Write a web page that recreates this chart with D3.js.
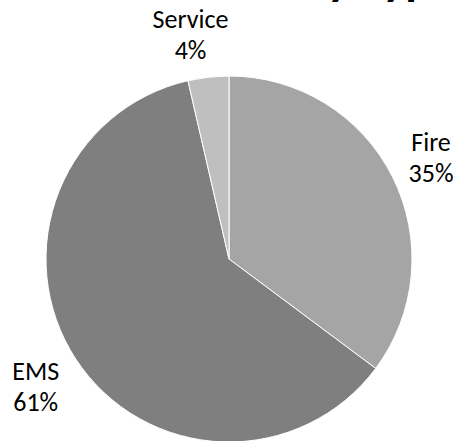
<!DOCTYPE html>
<html>
<head>
<meta charset="utf-8">
<script src="https://cdn.jsdelivr.net/npm/d3@7"></script>
<style>
  html, body { margin: 0; padding: 0; background: #ffffff; }
  svg { display: block; }
</style>
</head>
<body>
<svg id="chart" width="458" height="441"></svg>
<script>
// ---- data ----
const categories = ["Fire", "EMS", "Service"];
const values = [35.2, 61.2, 3.6];
const colors = ["#a5a5a5", "#7f7f7f", "#bfbfbf"];
const title = "Call Incidents by Type";

const W = 458, H = 441;
const cx = 229, cy = 259, R = 183, labelR = 226;
const fontFamily = "Calibri, Carlito, Lato, 'Open Sans', sans-serif";

const svg = d3.select("#chart");

// title (cropped at top of the frame, as in the reference)
svg.append("text")
  .attr("x", 242)
  .attr("y", -6)
  .attr("text-anchor", "middle")
  .attr("textLength", 425)
  .attr("lengthAdjust", "spacingAndGlyphs")
  .style("font-family", fontFamily)
  .style("font-weight", "bold")
  .style("font-size", "48px")
  .style("fill", "#000")
  .text(title);

const total = d3.sum(values);
const data = categories.map((c, i) => ({ cat: c, value: values[i], color: colors[i] }));

const pie = d3.pie().sort(null).value(d => d.value);
const arcs = pie(data);

const arc = d3.arc().innerRadius(0).outerRadius(R);
const labelArc = d3.arc().innerRadius(labelR).outerRadius(labelR);

const g = svg.append("g").attr("transform", `translate(${cx},${cy})`);

g.selectAll("path.slice")
  .data(arcs)
  .join("path")
  .attr("class", "slice")
  .attr("d", arc)
  .attr("fill", d => d.data.color)
  .attr("stroke", "#ffffff")
  .attr("stroke-width", 1);

const pct = d3.format(".0%");
const lineH = 31;
// small layout nudges for label placement (pixels)
const nudge = { Fire: [0, 0], EMS: [-4, 4], Service: [-13, 0] };

const labels = g.selectAll("text.label")
  .data(arcs)
  .join("text")
  .attr("class", "label")
  .attr("text-anchor", "middle")
  .style("font-family", fontFamily)
  .style("font-size", "26px")
  .style("fill", "#000");

labels.each(function(d) {
  const [x0, y0] = labelArc.centroid(d);
  const [nx, ny] = nudge[d.data.cat] || [0, 0];
  const x = x0 + nx, y = y0 + ny;
  const t = d3.select(this);
  t.append("tspan").attr("x", x).attr("y", y - lineH / 2 + 9).text(d.data.cat);
  t.append("tspan").attr("x", x).attr("y", y + lineH / 2 + 9).text(pct(d.data.value / total));
});
</script>
</body>
</html>
